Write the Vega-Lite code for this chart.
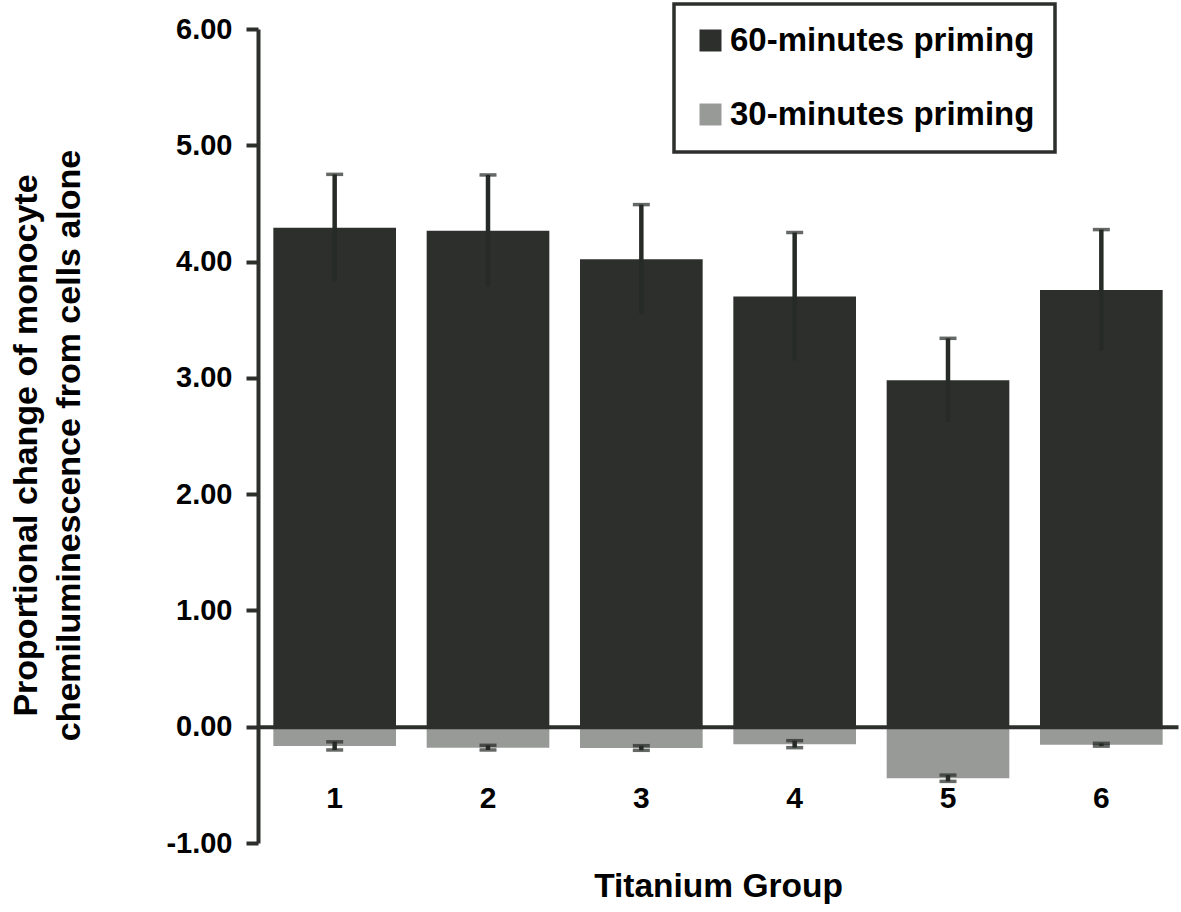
{
  "$schema": "https://vega.github.io/schema/vega-lite/v6.json",
  "width": 920,
  "height": 814,
  "autosize": {"type": "none"},
  "padding": {"left": 258, "top": 29, "right": 3, "bottom": 69},
  "background": "white",
  "data": {
    "values": [
      {"group": "1", "series": "60-minutes priming", "mean": 4.29, "lo": 3.83, "hi": 4.75},
      {"group": "2", "series": "60-minutes priming", "mean": 4.265, "lo": 3.785, "hi": 4.745},
      {"group": "3", "series": "60-minutes priming", "mean": 4.02, "lo": 3.55, "hi": 4.49},
      {"group": "4", "series": "60-minutes priming", "mean": 3.70, "lo": 3.15, "hi": 4.25},
      {"group": "5", "series": "60-minutes priming", "mean": 2.98, "lo": 2.62, "hi": 3.34},
      {"group": "6", "series": "60-minutes priming", "mean": 3.755, "lo": 3.235, "hi": 4.275},
      {"group": "1", "series": "30-minutes priming", "mean": -0.165, "lo": -0.2, "hi": -0.13},
      {"group": "2", "series": "30-minutes priming", "mean": -0.18, "lo": -0.2, "hi": -0.16},
      {"group": "3", "series": "30-minutes priming", "mean": -0.183, "lo": -0.203, "hi": -0.163},
      {"group": "4", "series": "30-minutes priming", "mean": -0.15, "lo": -0.18, "hi": -0.12},
      {"group": "5", "series": "30-minutes priming", "mean": -0.443, "lo": -0.47, "hi": -0.416},
      {"group": "6", "series": "30-minutes priming", "mean": -0.155, "lo": -0.167, "hi": -0.143}
    ]
  },
  "encoding": {
    "x": {
      "field": "group",
      "type": "ordinal",
      "scale": {"paddingInner": 0.2, "paddingOuter": 0.1},
      "axis": {
        "title": "Titanium Group",
        "offset": -116.3,
        "labelAngle": 0,
        "ticks": false,
        "domainColor": "#2c2f2c",
        "domainWidth": 4,
        "labelPadding": 57,
        "labelFontSize": 30,
        "titleY": 170,
        "titleBaseline": "alphabetic",
        "titleFontSize": 33.5,
        "zindex": 1
      }
    }
  },
  "layer": [
    {
      "mark": {"type": "bar", "opacity": 1},
      "encoding": {
        "y": {
          "field": "mean",
          "type": "quantitative",
          "scale": {"domain": [-1, 6], "nice": false, "zero": false},
          "axis": {
            "title": ["Proportional change of monocyte", "chemiluminescence from cells alone"],
            "values": [-1, 0, 1, 2, 3, 4, 5, 6],
            "format": ".2f",
            "labelExpr": "replace(datum.label, '\u2212', '-')",
            "grid": false,
            "domainColor": "#2c2f2c",
            "domainWidth": 4,
            "tickColor": "#2c2f2c",
            "tickWidth": 4,
            "tickSize": 12,
            "labelPadding": 14,
            "labelFontSize": 29,
            "titleFontSize": 34,
            "titleLineHeight": 43,
            "titleAngle": -90,
            "titleX": -232,
            "titleY": 416,
            "titleBaseline": "middle",
            "titleAlign": "center",
            "zindex": 1
          }
        },
        "color": {
          "field": "series",
          "type": "nominal",
          "scale": {
            "domain": ["60-minutes priming", "30-minutes priming"],
            "range": ["#2c2f2c", "#989a98"]
          },
          "legend": {
            "title": null,
            "orient": "none",
            "legendX": 416,
            "legendY": -25,
            "padding": 20,
            "rowPadding": 40,
            "strokeColor": "#2c2f2c",
            "fillColor": "white",
            "symbolType": "square",
            "symbolSize": 484,
            "symbolStrokeWidth": 0,
            "symbolOpacity": 1,
            "labelFontSize": 33,
            "labelOffset": 3,
            "labelLimit": 600,
            "encode": {
              "legend": {"update": {"strokeWidth": {"value": 3.5}}}
            }
          }
        }
      }
    },
    {
      "mark": {"type": "rule", "color": "#262b27", "strokeWidth": 4.5},
      "encoding": {
        "y": {"field": "lo", "type": "quantitative"},
        "y2": {"field": "hi"}
      }
    },
    {
      "mark": {"type": "tick", "color": "#232a25", "size": 17, "thickness": 3.5, "orient": "horizontal"},
      "encoding": {
        "y": {"field": "hi", "type": "quantitative"}
      }
    },
    {
      "transform": [{"filter": "datum.series == '30-minutes priming'"}],
      "mark": {"type": "tick", "color": "#232a25", "size": 17, "thickness": 3.5, "orient": "horizontal"},
      "encoding": {
        "y": {"field": "lo", "type": "quantitative"}
      }
    }
  ],
  "config": {
    "font": "Liberation Sans",
    "view": {"stroke": null},
    "axis": {
      "labelFont": "Liberation Sans",
      "labelFontWeight": "bold",
      "labelColor": "black",
      "titleFont": "Liberation Sans",
      "titleFontWeight": "bold",
      "titleColor": "black"
    },
    "legend": {
      "labelFont": "Liberation Sans",
      "labelFontWeight": "bold",
      "labelColor": "black"
    }
  }
}
